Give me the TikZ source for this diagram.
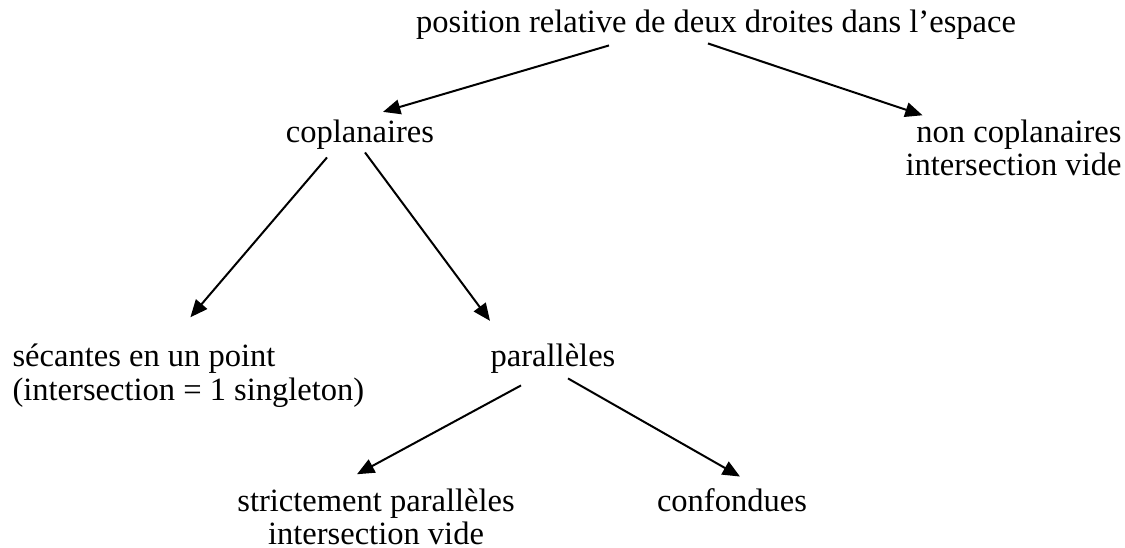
\documentclass[tikz,border=0pt]{standalone}
\usepackage{fontspec}
\setmainfont{Liberation Serif}
\usetikzlibrary{arrows.meta}
\tikzset{fl/.style = {-{Triangle[length = 6.5pt, width = 5.5pt]}, line width = 0.75pt}}
\tikzset{lbl/.style = {inner sep = 0, anchor = base}}

\begin{document}
\begin{tikzpicture}[x = 0.375pt, y = -0.375pt, font = \fontsize{12.2}{12.6}\selectfont]
      \useasboundingbox (0, 0) rectangle (1125, 548);

      % the last line of a two-line node sits on its base
      \node [lbl] (pos) at (716, 33) {position relative de deux droites dans l’espace};
      \node [lbl] (copl) at (360, 143) {coplanaires};
      \node [lbl, anchor = base east, align = right] (nonc) at (1122, 176) {non coplanaires\\intersection vide};
      \node [lbl, anchor = base west, align = left] (sec) at (12, 400) {sécantes en un point\\(intersection = 1 singleton)};
      \node [lbl] (par) at (553, 367) {parallèles};
      \node [lbl, align = center] (strict) at (376, 545) {strictement parallèles\\intersection vide};
      \node [lbl] (conf) at (732, 512) {confondues};

      \draw [fl] ([shift = {(-107, 5)}] pos.south) -- ([shift = {(23, -8)}] copl.north);
      \draw [fl] ([shift = {(-8, 3)}] pos.south) -- ([shift = {(-91, -4)}] nonc.north);
      \draw [fl] ([shift = {(-33, 7)}] copl.south) -- ([shift = {(2, -26)}] sec.north);
      \draw [fl] ([shift = {(5, 2)}] copl.south) -- ([shift = {(-63, -23)}] par.north);
      \draw [fl] ([shift = {(-32, 11)}] par.south) -- ([shift = {(-19, -14)}] strict.north);
      \draw [fl] ([shift = {(15, 4)}] par.south) -- ([shift = {(8, -12)}] conf.north);
\end{tikzpicture}
\end{document}
